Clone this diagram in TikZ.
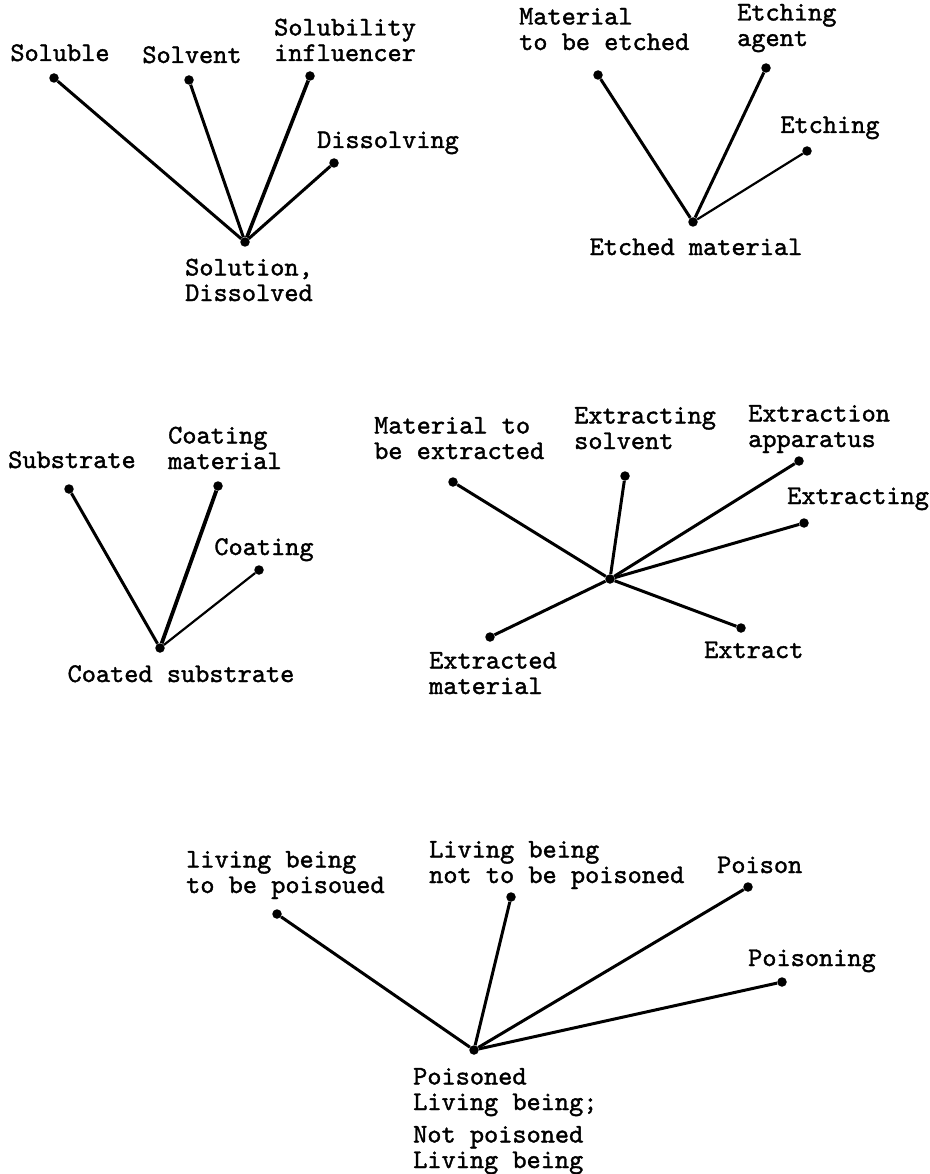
\documentclass[tikz,border=0pt]{standalone}
\usepackage{fontspec}
\newfontfamily\typewriter[FakeBold=1.4]{lmmono10-regular.otf}

\begin{document}
\begin{tikzpicture}[x=1pt, y=-1pt,
  dot/.style={circle, fill=black, inner sep=0pt, minimum size=9.5pt},
  tag/.style={font=\typewriter\fontsize{27}{25.5}\selectfont, inner sep=0pt, align=left},
  arm/.style={line width=3pt},
  thinarm/.style={line width=2.2pt}
]
\useasboundingbox[fill=white] (0,0) rectangle (929,1174);

% Dissolving
\node[dot] (solution) at (245, 242) {};
\node[dot] (soluble) at (54, 78) {};
\node[dot] (solvent) at (189, 80) {};
\node[dot] (influencer) at (310, 76) {};
\node[dot] (dissolving) at (334, 163) {};
\node[tag, anchor=base] (solublet) at (60, 61) {Soluble};
\node[tag, anchor=base] (solventt) at (192, 63) {Solvent};
\node[tag, anchor=base west] (influencert) at (274, 61) {Solubility\\influencer};
\node[tag, anchor=base] (dissolvingt) at (388, 148) {Dissolving};
\node[tag, anchor=base west] (solutiont) at (185, 301) {Solution,\\Dissolved};

\draw[arm] (solution) -- (soluble);
\draw[arm] (solution) -- (solvent);
\draw[arm, line width=3.6pt] (solution) -- (influencer);
\draw[arm] (solution) -- (dissolving);

% Etching
\node[dot] (etched) at (693, 222) {};
\node[dot] (toetch) at (598, 75) {};
\node[dot] (agent) at (766, 68) {};
\node[dot] (etching) at (807, 151) {};
\node[tag, anchor=base west] (toetcht) at (519, 50) {Material\\to be etched};
\node[tag, anchor=base west] (agentt) at (737, 46) {Etching\\agent};
\node[tag, anchor=base] (etchingt) at (830, 133) {Etching};
\node[tag, anchor=base] (etchedt) at (696, 255) {Etched material};

\draw[arm] (etched) -- (toetch);
\draw[arm] (etched) -- (agent);
\draw[thinarm] (etched) -- (etching);

% Coating
\node[dot] (coated) at (160, 648) {};
\node[dot] (substrate) at (69, 489) {};
\node[dot] (coatmat) at (218, 486) {};
\node[dot] (coating) at (259, 570) {};
\node[tag, anchor=base] (substratet) at (72, 468) {Substrate};
\node[tag, anchor=base west] (coatmatt) at (168, 469) {Coating\\material};
\node[tag, anchor=base] (coatingt) at (264, 555) {Coating};
\node[tag, anchor=base] (coatedt) at (181, 682) {Coated substrate};

\draw[arm] (coated) -- (substrate);
\draw[arm, line width=3.8pt] (coated) -- (coatmat);
\draw[thinarm] (coated) -- (coating);

% Extracting
\node[dot] (hub) at (610, 579) {};
\node[dot] (toextract) at (453, 482) {};
\node[dot] (exsolvent) at (625, 476) {};
\node[dot] (apparatus) at (799, 461) {};
\node[dot] (extracting) at (804, 523) {};
\node[dot] (extract) at (741, 628) {};
\node[dot] (extracted) at (490, 637) {};
\node[tag, anchor=base west] (toextractt) at (374, 459) {Material to\\be extracted};
\node[tag, anchor=base west] (exsolventt) at (574, 449) {Extracting\\solvent};
\node[tag, anchor=base west] (apparatust) at (748, 447) {Extraction\\apparatus};
\node[tag, anchor=base west] (extractingt) at (787, 504) {Extracting};
\node[tag, anchor=base west] (extractt) at (704, 658) {Extract};
\node[tag, anchor=base west] (extractedt) at (429, 694) {Extracted\\material};

\draw[arm] (hub) -- (toextract);
\draw[arm] (hub) -- (exsolvent);
\draw[arm] (hub) -- (apparatus);
\draw[arm] (hub) -- (extracting);
\draw[arm] (hub) -- (extract);
\draw[arm] (hub) -- (extracted);

% Poisoning
\node[dot] (poisoned) at (474, 1050) {};
\node[dot] (tobe) at (277, 914) {};
\node[dot] (nottobe) at (511, 897) {};
\node[dot] (poison) at (748, 887) {};
\node[dot] (poisoning) at (782, 982) {};
\node[tag, anchor=base west] (tobet) at (186, 893) {living being\\to be poisoued};
\node[tag, anchor=base west] (nottobet) at (429, 883) {Living being\\not to be poisoned};
\node[tag, anchor=base west] (poisont) at (717, 873) {Poison};
\node[tag, anchor=base west] (poisoningt) at (748, 966) {Poisoning};
\node[tag, anchor=base west] (poisonedt) at (413, 1168) {Poisoned\\Living being;\\[7pt]Not poisoned\\Living being};

\draw[arm] (poisoned) -- (tobe);
\draw[arm] (poisoned) -- (nottobe);
\draw[arm] (poisoned) -- (poison);
\draw[arm] (poisoned) -- (poisoning);

\end{tikzpicture}
\end{document}
